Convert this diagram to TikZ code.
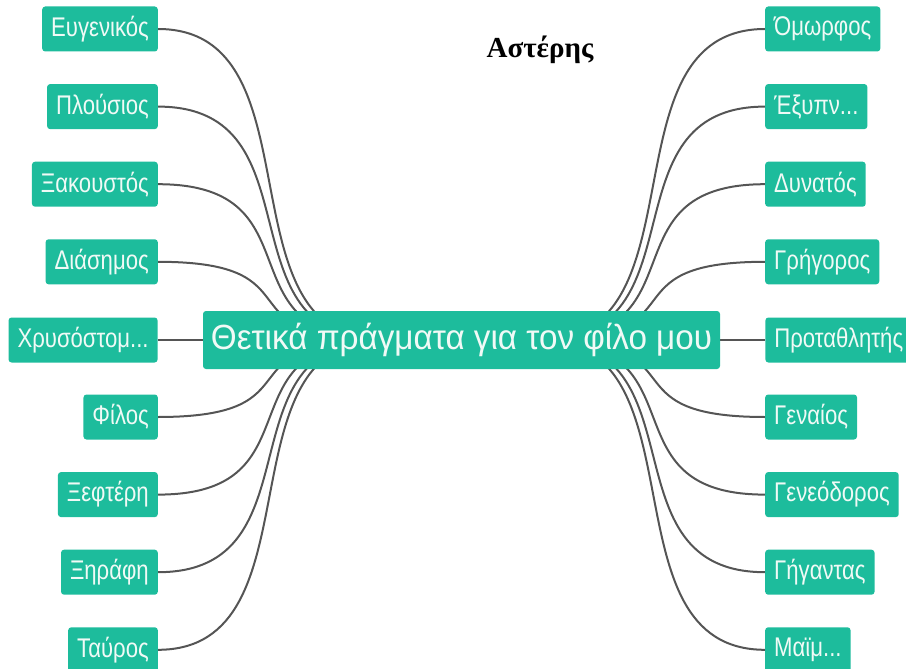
\documentclass[tikz,border=0pt]{standalone}
\usepackage{fontspec}
\setmainfont{Liberation Serif}
\newfontfamily\mapfont[FakeStretch=0.82]{Liberation Sans}
\newfontfamily\hubfont[FakeStretch=0.95]{Liberation Sans}
\usetikzlibrary{positioning, backgrounds}
\definecolor{mapteal}{RGB}{29,188,156}
\definecolor{mapline}{RGB}{85,85,85}
\definecolor{maptext}{RGB}{240,250,246}

\begin{document}
\begin{tikzpicture}[x=1pt, y=-1pt,
    leaf/.style={rectangle, fill=mapteal, text=maptext, rounded corners=3pt, minimum height=45pt, inner xsep=9pt, font=\mapfont\fontsize{27}{30}\selectfont},
    leftleaf/.style={leaf, anchor=east},
    rightleaf/.style={leaf, anchor=west},
    hub/.style={rectangle, fill=mapteal, text=maptext, rounded corners=3pt, minimum width=517pt, minimum height=58pt, font=\hubfont\fontsize{35}{40}\selectfont},
    link/.style={draw=mapline, line width=2pt}]
\useasboundingbox (0,0) rectangle (906,669);

% Nodes
\node [hub] (root) at (461.5,340) {Θετικά πράγματα για τον φίλο μου};
\node [font=\bfseries\fontsize{29}{32}\selectfont] (title) at (540,50) {Αστέρης};

\node [leftleaf] (eugenikos) at (158,29) {Ευγενικός};
\node [leftleaf] (plousios) at (158,106.6) {Πλούσιος};
\node [leftleaf] (xakoustos) at (158,184.2) {Ξακουστός};
\node [leftleaf] (diasimos) at (158,261.8) {Διάσημος};
\node [leftleaf, left=45pt of root] (chrysostomos) {Χρυσόστομ...};
\node [leftleaf] (filos) at (158,417) {Φίλος};
\node [leftleaf] (xefteri) at (158,494.6) {Ξεφτέρη};
\node [leftleaf] (xirafi) at (158,572.2) {Ξηράφη};
\node [leftleaf] (tavros) at (158,649.8) {Ταύρος};

\node [rightleaf] (omorfos) at (765,29) {Όμωρφος};
\node [rightleaf] (exypnos) at (765,106.6) {Έξυπν...};
\node [rightleaf] (dynatos) at (765,184.2) {Δυνατός};
\node [rightleaf] (grigoros) at (765,261.8) {Γρήγορος};
\node [rightleaf, right=45pt of root] (protathlitis) {Προταθλητής};
\node [rightleaf] (genaios) at (765,417) {Γεναίος};
\node [rightleaf] (geneodoros) at (765,494.6) {Γενεόδορος};
\node [rightleaf] (gigantas) at (765,572.2) {Γήγαντας};
\node [rightleaf] (maimou) at (765,649.8) {Μαϊμ...};

% Links
\begin{scope}[on background layer]
\foreach \n in {eugenikos, plousios, xakoustos, diasimos, filos, xefteri, xirafi, tavros}
    \draw [link] (\n.east) .. controls +(164,0) and +(-164,0) .. ([xshift=-80pt]root.center);
\foreach \n in {omorfos, exypnos, dynatos, grigoros, genaios, geneodoros, gigantas, maimou}
    \draw [link] (\n.west) .. controls +(-164,0) and +(164,0) .. ([xshift=80pt]root.center);
\draw [link] (chrysostomos) -- (root);
\draw [link] (root) -- (protathlitis);
\end{scope}

\end{tikzpicture}
\end{document}
